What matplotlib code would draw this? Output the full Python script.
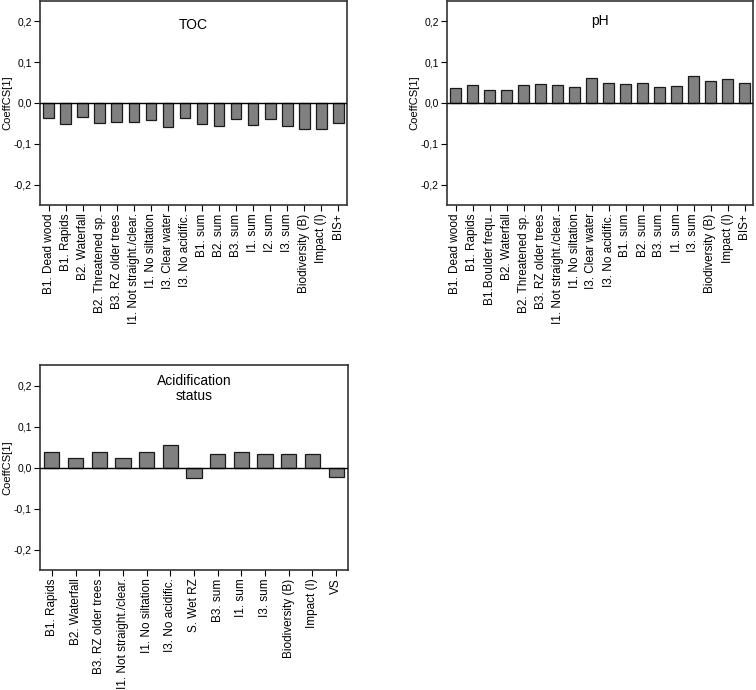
import matplotlib
matplotlib.use("Agg")
import matplotlib.pyplot as plt
from matplotlib.ticker import FuncFormatter

plt.rcParams['font.family'] = ['Liberation Sans', 'DejaVu Sans']

# TOC
toc_labels = ['B1. Dead wood', 'B1. Rapids', 'B2. Waterfall', 'B2. Threatened sp.',
              'B3. RZ older trees', 'I1. Not straight./clear.', 'I1. No siltation',
              'I3. Clear water', 'I3. No acidific.', 'B1. sum', 'B2. sum', 'B3. sum',
              'I1. sum', 'I2. sum', 'I3. sum', 'Biodiversity (B)', 'Impact (I)', 'BIS+']
toc_values = [-0.037, -0.052, -0.035, -0.050, -0.046, -0.047, -0.042, -0.058, -0.037,
              -0.051, -0.057, -0.040, -0.054, -0.038, -0.056, -0.063, -0.064, -0.049]

# pH
ph_labels = ['B1. Dead wood', 'B1. Rapids', 'B1.Boulder frequ.', 'B2. Waterfall',
             'B2. Threatened sp.', 'B3. RZ older trees', 'I1. Not straight./clear.',
             'I1. No siltation', 'I3. Clear water', 'I3. No acidific.', 'B1. sum',
             'B2. sum', 'B3. sum', 'I1. sum', 'I3. sum', 'Biodiversity (B)',
             'Impact (I)', 'BIS+']
ph_values = [0.037, 0.043, 0.033, 0.031, 0.043, 0.046, 0.043, 0.040, 0.062, 0.050,
             0.046, 0.048, 0.038, 0.041, 0.067, 0.054, 0.058, 0.050]

# Acidification status
acid_labels = ['B1. Rapids', 'B2. Waterfall', 'B3. RZ older trees',
               'I1. Not straight./clear.', 'I1. No siltation', 'I3. No acidific.',
               'S. Wet RZ', 'B3. sum', 'I1. sum', 'I3. sum', 'Biodiversity (B)',
               'Impact (I)', 'VS']
acid_values = [0.037, 0.024, 0.039, 0.024, 0.037, 0.056, -0.025, 0.032, 0.039,
               0.034, 0.032, 0.034, -0.024]

yticks = [-0.2, -0.1, 0.0, 0.1, 0.2]

fig = plt.figure(figsize=(7.56, 6.9), dpi=100)


def fmt(v, p):
    s = f"{v:.1f}".replace('.', ',')
    return '0,0' if s == '-0,0' else s


def panel(rect, labels, values, title, ty, width):
    ax = fig.add_axes(rect)
    x = list(range(len(values)))
    ax.bar(x, values, width=width, color='#808080', edgecolor='#1a1a1a',
           linewidth=0.9, zorder=2)
    ax.axhline(0, color='black', linewidth=1.0, zorder=3)
    ax.set_xlim(-0.5, len(values) - 0.5)
    ax.set_ylim(-0.25, 0.25)
    ax.set_yticks(yticks)
    ax.yaxis.set_major_formatter(FuncFormatter(fmt))
    ax.set_xticks(x)
    ax.set_xticklabels(labels, rotation=90, fontsize=8.5)
    ax.tick_params(axis='y', labelsize=7.5, length=4, width=0.8, pad=2)
    ax.tick_params(axis='x', length=4, width=0.8, pad=2)
    ax.set_ylabel('CoeffCS[1]', fontsize=8, labelpad=1)
    for s in ax.spines.values():
        s.set_color('#333333')
        s.set_linewidth(1.2)
    ax.text(0.5, ty, title, transform=ax.transAxes, ha='center', va='center',
            fontsize=10, linespacing=1.1)
    return ax


panel([40 / 756, 1 - 205 / 690, 307 / 756, 204 / 690], toc_labels, toc_values,
      'TOC', 0.88, 0.62)
panel([447 / 756, 1 - 205 / 690, 306 / 756, 204 / 690], ph_labels, ph_values,
      'pH', 0.9, 0.62)
panel([40 / 756, 1 - 570 / 690, 308 / 756, 205 / 690], acid_labels, acid_values,
      'Acidification\nstatus', 0.885, 0.64)

fig.savefig('out.png', dpi=100)
